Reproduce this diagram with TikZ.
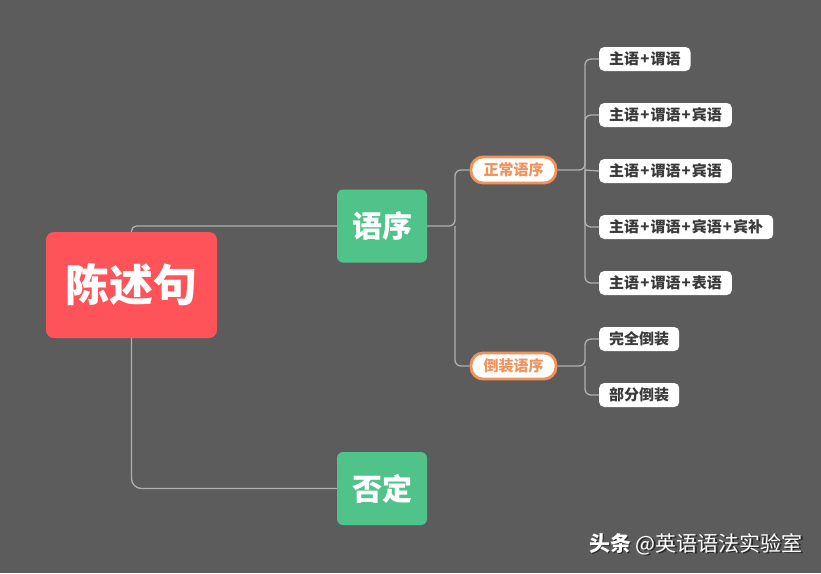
\documentclass[tikz,border=0pt]{standalone}
\usepackage{fontspec}
\newfontfamily\cjk{Noto Sans CJK SC}
\usetikzlibrary{calc}
\definecolor{bg}{HTML}{5C5C5C}
\definecolor{rootred}{HTML}{FF535A}
\definecolor{topgreen}{HTML}{4FC38A}
\definecolor{pillorange}{HTML}{F0925A}
\definecolor{linegray}{HTML}{B0B0B0}
\definecolor{leaftext}{HTML}{3A3A3A}
\newcommand{\pl}{\kern1.1pt+\kern1.1pt}
\tikzset{
  rootbox/.style={fill=rootred, rounded corners=8pt, minimum width=171pt, minimum height=106pt, text=white, font=\cjk\bfseries\fontsize{44}{48}\selectfont, inner sep=0pt},
  topbox/.style={fill=topgreen, rounded corners=6pt, minimum width=90pt, minimum height=73pt, text=white, font=\cjk\bfseries\fontsize{30}{34}\selectfont, inner sep=0pt},
  pillbox/.style={fill=white, draw=pillorange, line width=2.8pt, rounded corners=12pt, minimum width=85pt, minimum height=26pt, text=pillorange, font=\cjk\bfseries\fontsize{15}{17}\selectfont, inner sep=0pt},
  leafbox/.style={fill=white, rounded corners=5pt, minimum height=24pt, inner xsep=10pt, inner ysep=0pt, text=leaftext, font=\cjk\bfseries\fontsize{15}{17}\selectfont, anchor=west},
  conn/.style={draw=linegray, line width=1.3pt, rounded corners=6pt},
  wmtext/.style={anchor=east, font=\cjk\fontsize{21}{24}\selectfont, inner sep=0pt},
}
\begin{document}
\begin{tikzpicture}[x=1pt,y=-1pt]
\fill[bg] (0,0) rectangle (821,573);
\useasboundingbox (0,0) rectangle (821,573);

\node[rootbox] (root) at (131.5,285) {\raisebox{-4pt}{陈述句}};
\node[topbox] (yx) at (382,226) {\raisebox{-2pt}{语序}};
\node[topbox] (fd) at (382,488.5) {\raisebox{-2pt}{否定}};

\node[pillbox] (zc) at (513.5,170) {正常语序};
\node[pillbox] (dz) at (513.5,366) {倒装语序};

\node[leafbox] (l1) at (599,59) {主语\pl 谓语};
\node[leafbox] (l2) at (599,115) {主语\pl 谓语\pl 宾语};
\node[leafbox] (l3) at (599,171) {主语\pl 谓语\pl 宾语};
\node[leafbox] (l4) at (599,227) {主语\pl 谓语\pl 宾语\pl 宾补};
\node[leafbox] (l5) at (599,283) {主语\pl 谓语\pl 表语};
\node[leafbox] (m1) at (599,339) {完全倒装};
\node[leafbox] (m2) at (599,395) {部分倒装};

\coordinate (j0) at (455,226);
\coordinate (j1) at (585,170);
\coordinate (j2) at (585,366);

\draw[conn,rounded corners=5pt] (root.north) |- (yx.west);
\draw[conn,rounded corners=10pt] (root.south) |- (fd.west);
\draw[conn] (yx.east) -- (j0) |- (zc.west);
\draw[conn] (j0) |- (dz.west);
\draw[conn] (zc.east) -- (j1) |- (l1.west);
\draw[conn] (j1) |- (l2.west);
\draw[conn] (j1) -- (l3.west);
\draw[conn] (j1) |- (l4.west);
\draw[conn] (j1) |- (l5.west);
\draw[conn] (dz.east) -- (j2) |- (m1.west);
\draw[conn] (j2) |- (m2.west);

\node[wmtext, text=black!85] (wms) at (804.5,545.5) {{\bfseries 头条} @英语语法实验室};
\node[wmtext, text=white] (wm) at (803,544) {{\bfseries 头条} @英语语法实验室};
\end{tikzpicture}
\end{document}
